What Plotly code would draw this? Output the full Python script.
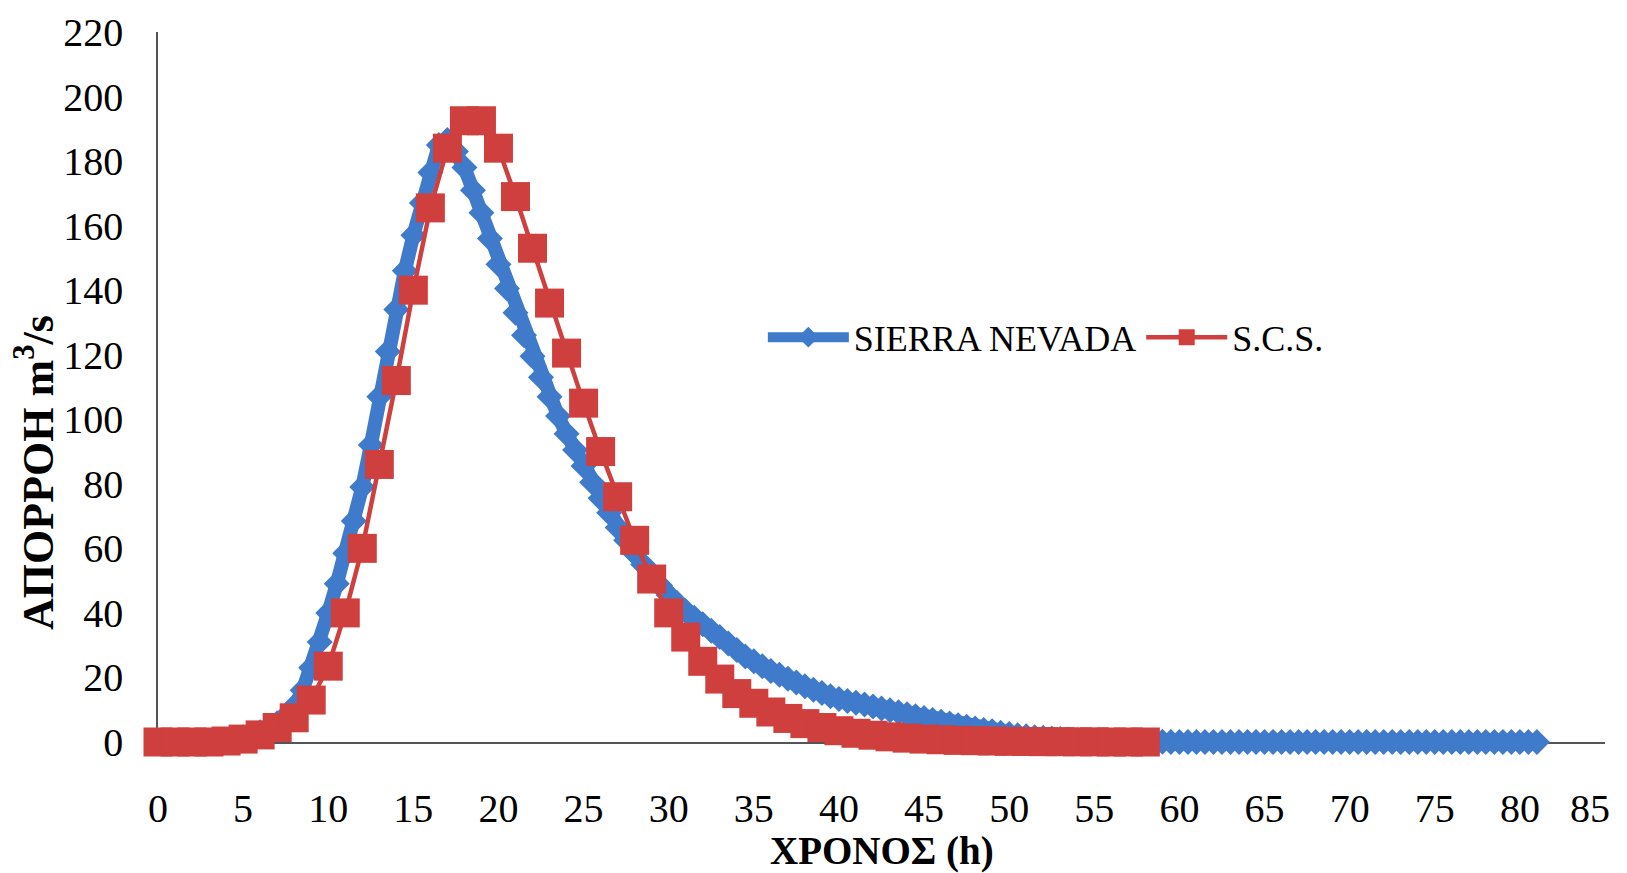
import plotly.graph_objects as go

# ---- data ----
# SIERRA NEVADA: half-hour readings, 0 .. 81 h
sn_hours = [i * 0.5 for i in range(163)]
sn_flow = [
    0, 0, 0, 0, 0, 0, 0.1, 0.3, 0.6, 1.0,          # 0 - 4.5
    1.5, 2.2, 3.0, 4.2, 5.8, 8.0, 11.0, 16.0, 23.0, 31.0,   # 5 - 9.5
    40.0, 49.0, 58.5, 68.5, 79.0, 92.0, 107.0, 121.0, 134.0, 146.0,  # 10 - 14.5
    157.0, 167.0, 176.5, 185.0, 186.5, 183.0, 178.0, 171.0, 164.0, 156.0,  # 15 - 19.5
    148.0, 140.5, 133.0, 126.0, 119.5, 113.0, 107.0, 101.0, 95.5, 90.5,   # 20 - 24.5
    85.5, 80.5, 75.5, 71.0, 66.5, 62.5, 58.5, 55.0, 51.5, 48.5,   # 25 - 29.5
    45.5, 43.0, 40.5, 38.5, 36.5, 34.5, 32.5, 30.5, 28.5, 26.5,   # 30 - 34.5
    25.0, 23.5, 22.0, 20.8, 19.6, 18.4, 17.3, 16.2, 15.2, 14.2,   # 35 - 39.5
    13.3, 12.7, 12.2, 11.6, 11.0, 10.4, 9.8, 9.2, 8.6, 8.0,       # 40 - 44.5
    7.4, 6.8, 6.3, 5.7, 5.2, 4.7, 4.2, 3.7, 3.3, 2.9,             # 45 - 49.5
    2.5, 2.1, 1.8, 1.5, 1.3, 1.1, 0.9, 0.7, 0.6, 0.5,             # 50 - 54.5
    0.4, 0.3, 0.25, 0.2, 0.15, 0.12, 0.1, 0.08, 0.05, 0.03,       # 55 - 59.5
    0, 0, 0, 0, 0, 0, 0, 0, 0, 0,                                 # 60 - 64.5
    0, 0, 0, 0, 0, 0, 0, 0, 0, 0,                                 # 65 - 69.5
    0, 0, 0, 0, 0, 0, 0, 0, 0, 0,                                 # 70 - 74.5
    0, 0, 0, 0, 0, 0, 0, 0, 0, 0,                                 # 75 - 79.5
    0, 0, 0,                                                      # 80 - 81
]

# S.C.S.: hourly readings 0..58 h
scs_hours = list(range(0, 59))
scs_flow = [
    0, 0, 0, 0, 0.3, 0.9, 2.2, 4.5, 7.5, 13,
    23.5, 40, 60, 86, 112, 140, 165.5, 184, 192.5, 192.5,
    184, 169, 153, 136, 120.5, 105, 90, 76, 62.5, 50.5,
    40, 32.5, 25, 19.5, 15, 12, 9.3, 7.3, 5.7, 4.5,
    3.5, 2.7, 2.1, 1.6, 1.2, 0.9, 0.7, 0.5, 0.4, 0.3,
    0.2, 0.15, 0.1, 0.1, 0.05, 0.05, 0, 0, 0,
]

series_names = ["SIERRA NEVADA", "S.C.S."]
x_ticks = list(range(0, 90, 5))
y_ticks = list(range(0, 240, 20))

assert len(sn_hours) == len(sn_flow)
assert len(scs_hours) == len(scs_flow)

BLUE = "#3F7ACB"
RED = "#CF3F3E"
FONT = "Liberation Serif"

# last x label is pulled inwards so it stays inside the page
x_ticktext = [str(v) for v in x_ticks]
x_ticktext[-1] = x_ticktext[-1] + "\u00a0\u00a0\u00a0"

fig = go.Figure()
fig.add_trace(go.Scatter(
    x=sn_hours, y=sn_flow, name=series_names[0], mode="lines+markers",
    line=dict(color=BLUE, width=14),
    marker=dict(symbol="diamond", size=20, color=BLUE),
    cliponaxis=False,
))
fig.add_trace(go.Scatter(
    x=scs_hours, y=scs_flow, name=series_names[1], mode="lines+markers",
    line=dict(color=RED, width=4.5),
    marker=dict(symbol="square", size=29, color=RED),
    cliponaxis=False,
))

# page body has an 8px margin, so the figure is 8px smaller each way
fig.update_layout(
    width=1619, height=865,
    margin=dict(l=150, r=22, t=24, b=131, autoexpand=False),
    paper_bgcolor="white", plot_bgcolor="white",
    font=dict(family=FONT, color="black", size=40),
    showlegend=True,
    legend=dict(
        orientation="h", x=0.418, y=0.57, xanchor="left", yanchor="middle",
        font=dict(family=FONT, size=36, color="black"),
        bgcolor="rgba(0,0,0,0)", itemwidth=81, tracegroupgap=0,
    ),
    xaxis=dict(
        range=[0, 85], tickvals=x_ticks, ticktext=x_ticktext,
        showline=True, linecolor="#555555", linewidth=1.5, automargin=False,
        showgrid=False, zeroline=False, ticks="", layer="below traces",
        tickfont=dict(family=FONT, size=40, color="black"),
        ticklabelstandoff=30, ticklabeloverflow="allow",
    ),
    yaxis=dict(
        range=[0, 220], tickvals=y_ticks, ticktext=[str(v) for v in y_ticks],
        showline=True, linecolor="#555555", linewidth=1.5, automargin=False,
        showgrid=False, zeroline=False, ticks="", layer="below traces",
        tickfont=dict(family=FONT, size=40, color="black"),
        ticklabelstandoff=25,
    ),
    annotations=[
        dict(text="<b>ΧΡΟΝΟΣ (h)</b>", xref="paper", yref="paper",
             x=0.5, y=-0.154, xanchor="center", yanchor="middle",
             showarrow=False, font=dict(family=FONT, size=39, color="black")),
        dict(text="<b>ΑΠΟΡΡΟΗ m<sup>3</sup>/s</b>", xref="paper", yref="paper",
             x=-0.085, y=0.379, xanchor="center", yanchor="middle", textangle=-90,
             showarrow=False, font=dict(family=FONT, size=44, color="black")),
    ],
)

fig.write_html("out.html")
